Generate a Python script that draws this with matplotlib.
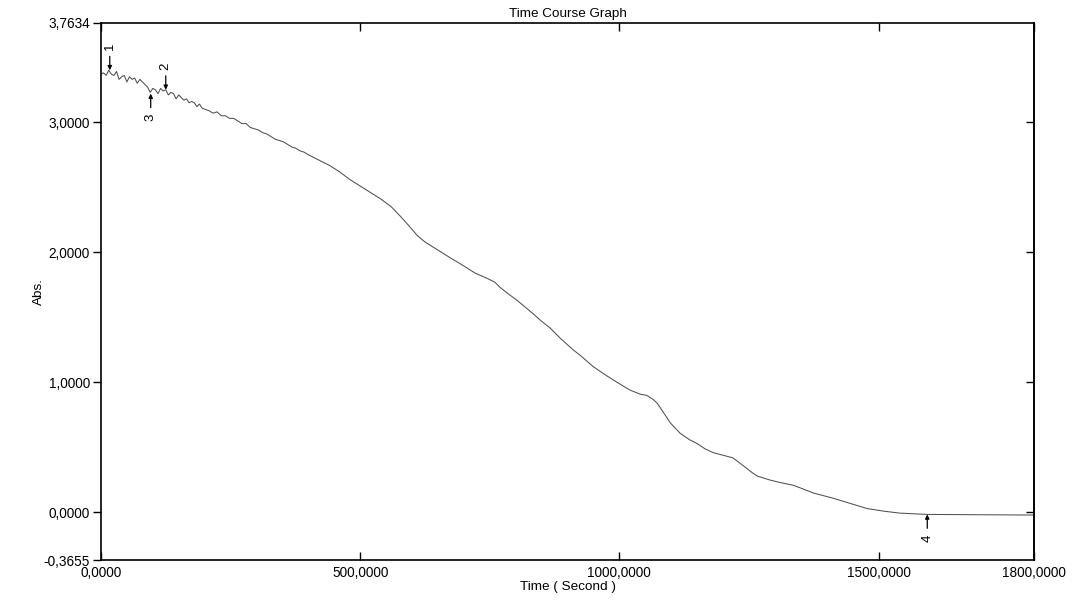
import matplotlib
matplotlib.use("Agg")
import matplotlib.pyplot as plt
from matplotlib.ticker import FuncFormatter

plt.rcParams['font.family'] = ['Liberation Sans', 'DejaVu Sans']

# time course readings (seconds, absorbance)
time_s = [0, 5, 10, 15, 20, 25, 30, 35, 40, 45, 50, 55, 60, 65, 70, 75, 80,
          85, 90, 95, 100, 105, 110, 115, 120, 125, 130, 135, 140, 145, 150,
          155, 160, 165, 170, 175, 180, 185, 190, 195, 200,
          208, 216, 224, 232, 240, 248, 256, 264, 272, 280, 288, 296, 304,
          312, 320, 328, 336, 344, 352, 360, 368, 376, 384, 392, 400,
          420, 440, 460, 480, 500, 520, 540, 560, 577, 595, 610, 625, 641,
          657, 673, 698, 722, 745, 760, 770, 786, 803, 818, 833, 850, 866,
          886, 900, 911, 924, 950, 976, 1000, 1021, 1040, 1053, 1065, 1073,
          1085, 1098, 1117, 1135, 1150, 1165, 1181, 1200, 1219, 1239, 1255,
          1266, 1290, 1310, 1335, 1355, 1374, 1412, 1445, 1478, 1510, 1541,
          1594, 1700, 1800]
absorb = [3.37, 3.38, 3.36, 3.40, 3.37, 3.36, 3.39, 3.33, 3.35, 3.36, 3.31,
          3.35, 3.33, 3.34, 3.30, 3.33, 3.31, 3.29, 3.27, 3.23, 3.26, 3.25,
          3.22, 3.26, 3.24, 3.25, 3.21, 3.23, 3.22, 3.18, 3.21, 3.19, 3.17,
          3.18, 3.15, 3.16, 3.15, 3.12, 3.14, 3.11, 3.10,
          3.09, 3.07, 3.08, 3.05, 3.05, 3.03, 3.03, 3.01, 2.99, 2.99, 2.96,
          2.95, 2.94, 2.92, 2.91, 2.89, 2.87, 2.86, 2.85, 2.83, 2.81, 2.80,
          2.78, 2.77, 2.75,
          2.71, 2.67, 2.62, 2.56, 2.51, 2.46, 2.41, 2.35, 2.28, 2.20, 2.13,
          2.08, 2.04, 2.00, 1.96, 1.90, 1.84, 1.80, 1.77, 1.73, 1.68, 1.63,
          1.58, 1.53, 1.47, 1.42, 1.34, 1.29, 1.25, 1.21, 1.12, 1.05, 0.99,
          0.94, 0.91, 0.90, 0.87, 0.84, 0.77, 0.69, 0.61, 0.56, 0.53, 0.49,
          0.46, 0.44, 0.42, 0.36, 0.31, 0.28, 0.25, 0.23, 0.21, 0.18, 0.15,
          0.11, 0.07, 0.03, 0.01, -0.005, -0.015, -0.018, -0.02]

# numbered arrow markers
marker_labels = ['1', '2', '3', '4']
marker_t = [17, 125, 96, 1594]
marker_v = [3.40, 3.25, 3.22, -0.015]
marker_dir = [1, 1, -1, -1]   # 1: arrow from above, -1: from below

y_ticks = [-0.3655, 0, 1, 2, 3, 3.7634]
x_ticks = [0, 500, 1000, 1500, 1800]

fig = plt.figure(figsize=(10.74, 6.03), dpi=100)
ax = fig.add_axes([0.094, 0.0713, 0.8688, 0.8906])

ax.plot(time_s, absorb, color='#505050', lw=0.75)

for lab, t, v, d in zip(marker_labels, marker_t, marker_v, marker_dir):
    ax.annotate('', xy=(t, v), xytext=(0, 10 * d), textcoords='offset points',
                arrowprops=dict(arrowstyle='-|>', lw=0.9, color='black',
                                mutation_scale=6, shrinkA=0, shrinkB=0))
    ax.annotate(lab, xy=(t, v), xytext=(0, 17 * d), textcoords='offset points',
                ha='center', va='center', rotation=90, fontsize=9.5)

ax.set_xlim(0, 1800)
ax.set_ylim(-0.3655, 3.7634)

fmt = FuncFormatter(lambda v, p: ('%.4f' % v).replace('.', ','))
ax.set_xticks(x_ticks)
ax.set_yticks(y_ticks)
ax.xaxis.set_major_formatter(fmt)
ax.yaxis.set_major_formatter(fmt)

ax.tick_params(axis='x', direction='in', top=True, length=6, width=1,
               labelsize=9.8, pad=4)
ax.tick_params(axis='y', direction='out', length=6, width=1,
               labelsize=9.8, pad=2)

right = ax.secondary_yaxis('right')
right.set_yticks([0, 1, 2, 3])
right.tick_params(direction='in', length=6, width=1, labelright=False)
right.spines['right'].set_linewidth(1.2)

for s in ax.spines.values():
    s.set_linewidth(1.2)

ax.set_title('Time Course Graph', fontsize=9.7, pad=4)
ax.set_xlabel('Time ( Second )', fontsize=9.7, labelpad=1)
ax.set_ylabel('Abs.', fontsize=9.7, labelpad=-1)

fig.savefig('out.png', dpi=100, facecolor='white')
